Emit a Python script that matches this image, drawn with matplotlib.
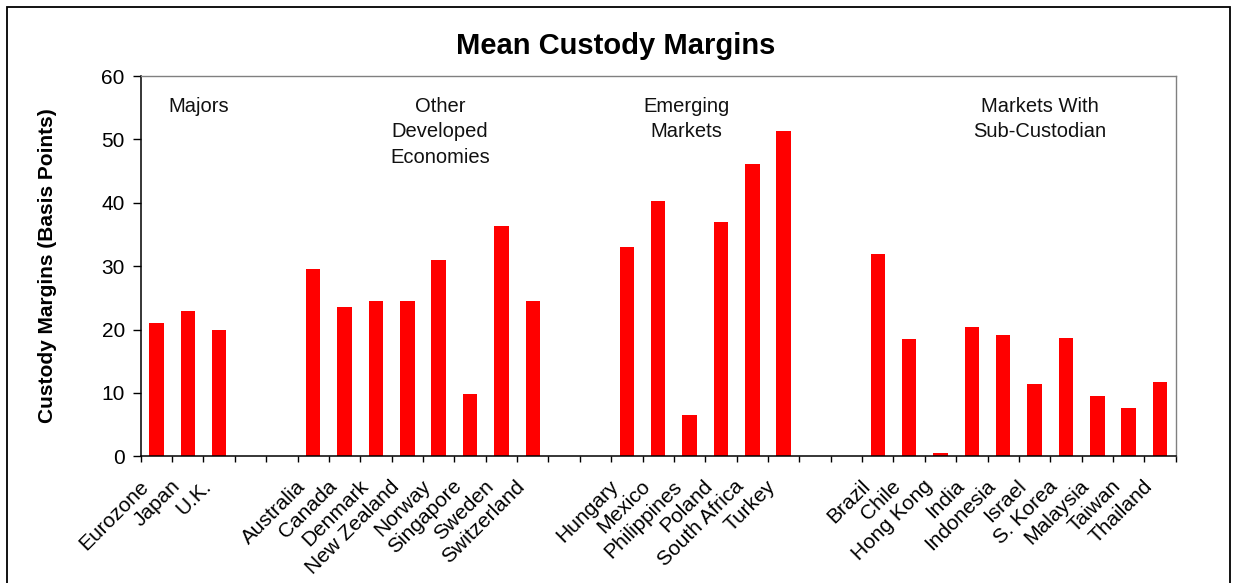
import matplotlib
matplotlib.use("Agg")
import matplotlib.pyplot as plt
import matplotlib.transforms as mtransforms
from matplotlib.patches import Rectangle

plt.rcParams['font.family'] = ['Liberation Sans', 'DejaVu Sans']

# custody margins in basis points, grouped by market type
majors = ['Eurozone', 'Japan', 'U.K.']
majors_vals = [21.0, 23.0, 20.0]

developed = ['Australia', 'Canada', 'Denmark', 'New Zealand', 'Norway',
             'Singapore', 'Sweden', 'Switzerland']
developed_vals = [29.6, 23.5, 24.5, 24.5, 31.0, 9.9, 36.4, 24.5]

emerging = ['Hungary', 'Mexico', 'Philippines', 'Poland', 'South Africa', 'Turkey']
emerging_vals = [33.1, 40.3, 6.6, 37.0, 46.1, 51.3]

sub_custodian = ['Brazil', 'Chile', 'Hong Kong', 'India', 'Indonesia', 'Israel',
                 'S. Korea', 'Malaysia', 'Taiwan', 'Thailand']
sub_custodian_vals = [32.0, 18.5, 0.5, 20.4, 19.1, 11.4, 18.7, 9.5, 7.7, 11.8]

group_titles = ['Majors', 'Other\nDeveloped\nEconomies', 'Emerging\nMarkets',
                'Markets With\nSub-Custodian']

groups = [(majors, majors_vals), (developed, developed_vals),
          (emerging, emerging_vals), (sub_custodian, sub_custodian_vals)]
GAP = 2  # empty category slots between groups

names, values, positions = [], [], []
pos = 0
for labels, vals in groups:
    for lab, v in zip(labels, vals):
        names.append(lab)
        values.append(v)
        positions.append(pos)
        pos += 1
    pos += GAP
n_slots = pos - GAP

fig = plt.figure(figsize=(12.38, 5.83), dpi=100)
ax = fig.add_axes([0.1137, 0.2172, 0.836, 0.6524])

ax.bar(positions, values, width=0.46, color='#ff0000', edgecolor='none', zorder=2)

ax.set_xlim(-0.5, n_slots - 0.5)
ax.set_ylim(0, 60)
ax.set_yticks(range(0, 61, 10))
ax.tick_params(axis='y', direction='out', length=5.5, width=1, pad=6,
               labelsize=15, colors='black')
ax.set_xticks([p - 0.5 for p in range(n_slots + 1)])
ax.set_xticklabels([])
ax.tick_params(axis='x', direction='out', length=4.5, width=1)

for side in ['left', 'bottom']:
    ax.spines[side].set_linewidth(1.1)
    ax.spines[side].set_color('black')
for side in ['top', 'right']:
    ax.spines[side].set_linewidth(1.0)
    ax.spines[side].set_color('#808080')

# rotated category names, anchored just below each bar
label_tf = mtransforms.blended_transform_factory(ax.transData, ax.transAxes) + \
    mtransforms.ScaledTranslation(-11 / 100, -27 / 100, fig.dpi_scale_trans)
for p, lab in zip(positions, names):
    ax.text(p, 0, lab, transform=label_tf, rotation=45, rotation_mode='anchor',
            ha='right', va='center', fontsize=15, clip_on=False)

# group headings inside the plot
heading_x = [1.36, 9.04, 16.9, 28.16]
for hx, title in zip(heading_x, group_titles):
    t = ax.text(hx, 56.7, title, ha='center', va='top', fontsize=14.5,
                linespacing=1.42, color='#111111')
    if title.startswith('Markets With'):
        # heading box is a little too narrow for the last letter
        clip = Rectangle((24.0, 40), 6.31, 20, transform=ax.transData)
        t.set_clip_path(clip)
        t.set_clip_on(True)

fig.text(0.4975, 0.921, 'Mean Custody Margins', ha='center', va='center',
         fontsize=21, fontweight='bold')
fig.text(48 / 1238, 1 - 266 / 583, 'Custody Margins (Basis Points)', rotation=90,
         ha='center', va='center', fontsize=15, fontweight='bold')

# outer chart frame
fig.patches.append(Rectangle((7 / 1238, -0.05), 1223 / 1238, 1 - 7 / 583 + 0.05,
                             transform=fig.transFigure, fill=False,
                             edgecolor='black', linewidth=1.3))

fig.savefig('out.png', dpi=100)
